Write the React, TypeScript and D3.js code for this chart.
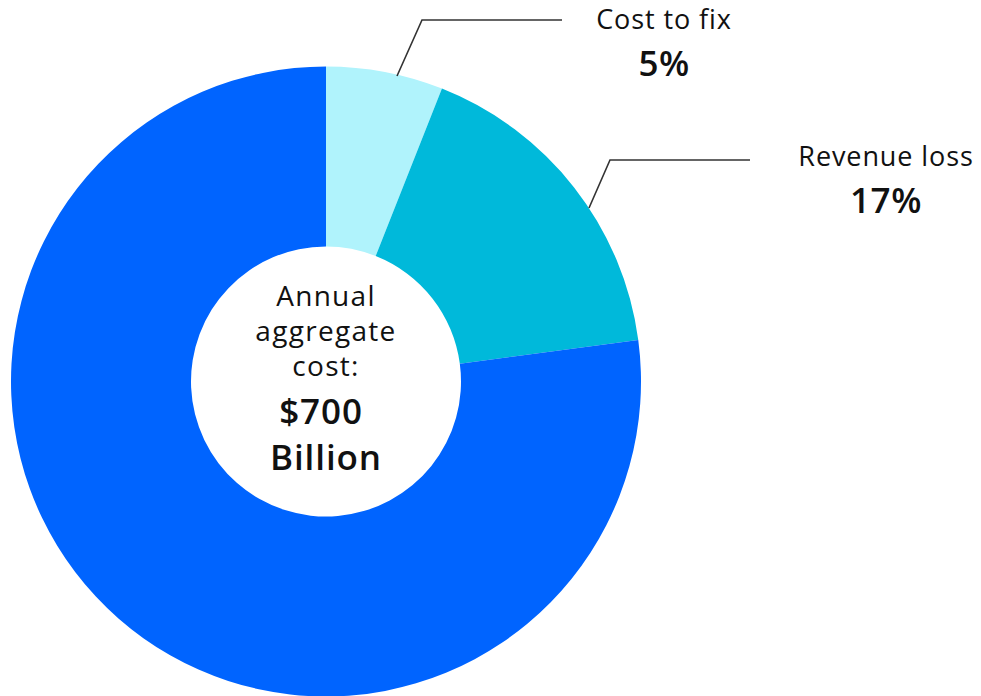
import React from "react";
import * as d3 from "d3";

const categories = ["Cost to fix", "Revenue loss", "Other"];
const sliceValues = [6.0, 16.9, 77.1];
const labelPercents = ["5%", "17%", null];
const sliceColors = ["#b0f3fc", "#00b9da", "#0064ff"];
const centerLines = ["Annual", "aggregate", "cost:"];
const centerBold = ["$700 ", "Billion"];

const W = 981;
const H = 696;
const cx = 326;
const cy = 381.5;
const outerR = 315;
const innerR = 135;
const FONT = "'Open Sans', sans-serif";

const labelPos = [
  { lx: 664, ly: 29, leader: [[397, 76], [422, 20], [562, 20]] },
  { lx: 886, ly: 166, leader: [[589, 208], [610, 160], [750, 160]] },
];

export default function App() {
  const pie = d3.pie<number>().sort(null).value((d) => d);
  const arcs = pie(sliceValues);
  const arcGen = d3.arc<d3.PieArcDatum<number>>().innerRadius(innerR).outerRadius(outerR);
  const line = d3.line();

  return (
    <svg width={W} height={H} style={{ position: "absolute", left: 0, top: 0 }} fontFamily={FONT}>
      <g transform={`translate(${cx},${cy})`}>
        {arcs.map((a, i) => (
          <path key={categories[i]} d={arcGen(a) || ""} fill={sliceColors[i]} />
        ))}
      </g>
      {labelPos.map((p, i) => (
        <g key={categories[i]}>
          <path d={line(p.leader as [number, number][]) || ""} fill="none" stroke="#333" strokeWidth={1.6} />
          <text x={p.lx} y={p.ly} textAnchor="middle" fontSize={27} letterSpacing={0.9} fill="#111">
            {categories[i]}
          </text>
          <text x={p.lx} y={p.ly + 47} textAnchor="middle" fontSize={35} fontWeight={600} letterSpacing={0.5} fill="#111">
            {labelPercents[i]}
          </text>
        </g>
      ))}
      {centerLines.map((t, i) => (
        <text key={t} x={cx} y={306 + i * 35} textAnchor="middle" fontSize={28} letterSpacing={1.3} fill="#111">
          {t}
        </text>
      ))}
      {centerBold.map((t, i) => (
        <text key={t} x={cx} y={424 + i * 46} textAnchor="middle" fontSize={35} fontWeight={600} letterSpacing={0.9} fill="#111" style={{ whiteSpace: "pre" }}>
          {t}
        </text>
      ))}
    </svg>
  );
}
